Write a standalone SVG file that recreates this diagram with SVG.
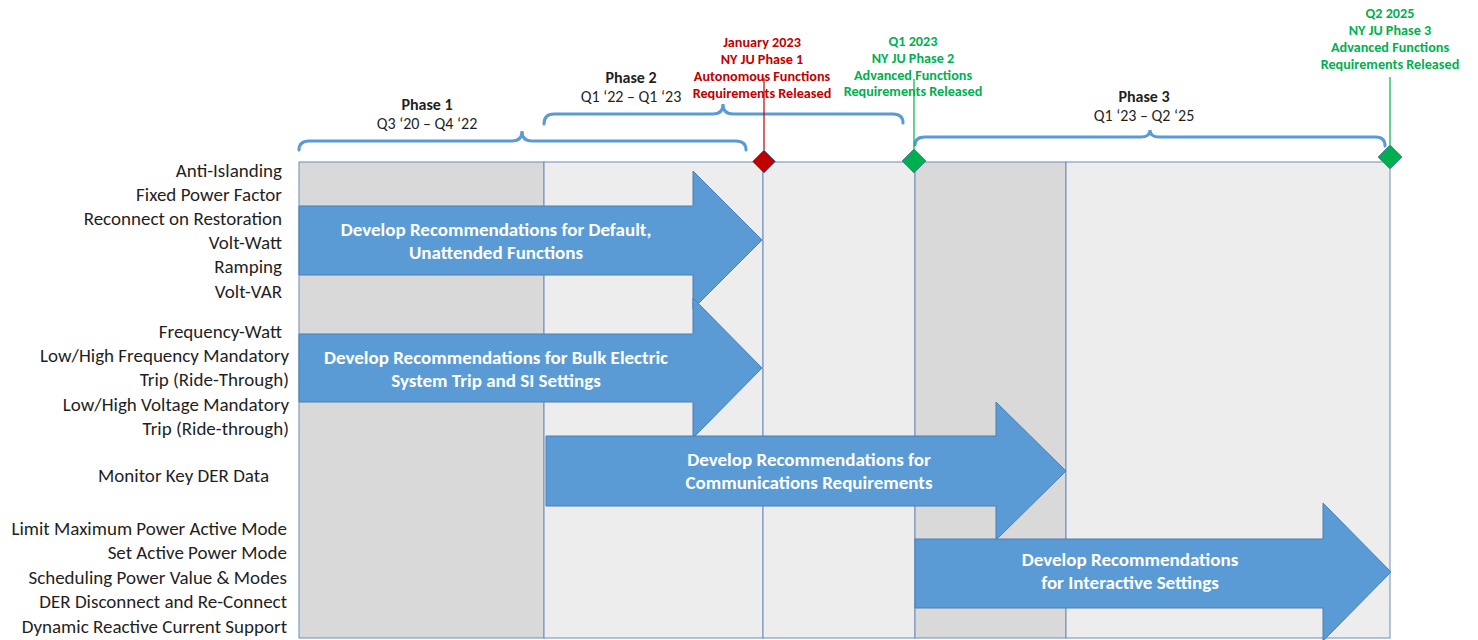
<svg xmlns="http://www.w3.org/2000/svg" width="1478" height="640" viewBox="0 0 1478 640">
<style>
.lbl{font-family:Carlito,Lato,"Liberation Sans",sans-serif;font-size:19px;fill:#1f1f1f;text-anchor:end}
.ph{font-family:Carlito,Lato,"Liberation Sans",sans-serif;font-size:16px;fill:#1f1f1f;text-anchor:middle}
.phb{font-weight:bold}
.ms{font-family:Carlito,Lato,"Liberation Sans",sans-serif;font-size:14.2px;font-weight:bold;text-anchor:middle}
.red{fill:#c00000}
.grn{fill:#00b050}
.at{font-family:Carlito,Lato,"Liberation Sans",sans-serif;font-size:19px;font-weight:bold;fill:#ffffff;text-anchor:middle}
.col{stroke:#6b8cba;stroke-width:1}
.dk{fill:#d9d9d9}
.lt{fill:#ededed}
.arrow{fill:#5b9bd5;stroke:#4a7fb5;stroke-width:1}
.brace{fill:none;stroke:#5b9bd5;stroke-width:3;stroke-linecap:round}
</style>
<rect width="1478" height="640" fill="#ffffff"/>
<g id="grid">
<rect class="col dk" x="299" y="162" width="245" height="476"/>
<rect class="col lt" x="544" y="162" width="219" height="476"/>
<rect class="col lt" x="763" y="162" width="152" height="476"/>
<rect class="col dk" x="915" y="162" width="151" height="476"/>
<rect class="col lt" x="1066" y="162" width="324" height="476"/>
</g>
<g id="braces">
<path class="brace" d="M299,150 Q299,141 309,141 H512 Q522,141 522,131 Q522,141 532,141 H736 Q746,141 746,150"/>
<path class="brace" d="M544,124 Q544,114 554,114 H713 Q723,114 723,104 Q723,114 733,114 H893 Q903,114 903,123"/>
<path class="brace" d="M915,145 Q915,137 925,137 H1141 Q1150,137 1150,130 Q1150,137 1159,137 H1376 Q1385,137 1385,146"/>
</g>
<g id="phase-labels">
<text class="ph phb" x="427" y="110">Phase 1</text>
<text class="ph" x="427" y="129">Q3 ‘20 – Q4 ‘22</text>
<text class="ph phb" x="631" y="83">Phase 2</text>
<text class="ph" x="631" y="102">Q1 ‘22 – Q1 ‘23</text>
<text class="ph phb" x="1144" y="102">Phase 3</text>
<text class="ph" x="1144" y="121">Q1 ‘23 – Q2 ‘25</text>
</g>
<g id="connectors">
<line x1="764" y1="78" x2="764" y2="151" stroke="#c00000" stroke-width="1.2"/>
<line x1="914" y1="79" x2="914" y2="150" stroke="#00b050" stroke-width="1.2"/>
<line x1="1390" y1="77" x2="1390" y2="145" stroke="#00b050" stroke-width="1.2"/>
</g>
<g id="milestone-1">
<text class="ms red" x="762" y="47">January 2023</text>
<text class="ms red" x="762" y="64">NY JU Phase 1</text>
<text class="ms red" x="762" y="81">Autonomous Functions</text>
<text class="ms red" x="762" y="98">Requirements Released</text>
<polygon points="764,150 775.5,161.5 764,173 752.5,161.5" fill="#c00000" stroke="#5b7fa8" stroke-width="1"/>
</g>
<g id="milestone-2">
<text class="ms grn" x="913" y="46">Q1 2023</text>
<text class="ms grn" x="913" y="63">NY JU Phase 2</text>
<text class="ms grn" x="913" y="80">Advanced Functions</text>
<text class="ms grn" x="913" y="96">Requirements Released</text>
<polygon points="914,149 926,161 914,173 902,161" fill="#00b050" stroke="#5b7fa8" stroke-width="1"/>
</g>
<g id="milestone-3">
<text class="ms grn" x="1390" y="18">Q2 2025</text>
<text class="ms grn" x="1390" y="35">NY JU Phase 3</text>
<text class="ms grn" x="1390" y="52">Advanced Functions</text>
<text class="ms grn" x="1390" y="69">Requirements Released</text>
<polygon points="1390,145 1402,157 1390,169 1378,157" fill="#00b050" stroke="#5b7fa8" stroke-width="1"/>
</g>
<g id="labels">
<text class="lbl" x="282" y="177">Anti-Islanding</text>
<text class="lbl" x="282" y="201">Fixed Power Factor</text>
<text class="lbl" x="282" y="225">Reconnect on Restoration</text>
<text class="lbl" x="282" y="249">Volt-Watt</text>
<text class="lbl" x="282" y="273">Ramping</text>
<text class="lbl" x="282" y="298">Volt-VAR</text>
<text class="lbl" x="282" y="338">Frequency-Watt</text>
<text class="lbl" x="289" y="362">Low/High Frequency Mandatory</text>
<text class="lbl" x="289" y="386">Trip (Ride-Through)</text>
<text class="lbl" x="289" y="411">Low/High Voltage Mandatory</text>
<text class="lbl" x="289" y="435">Trip (Ride-through)</text>
<text class="lbl" x="269" y="482">Monitor Key DER Data</text>
<text class="lbl" x="287" y="535">Limit Maximum Power Active Mode</text>
<text class="lbl" x="287" y="559">Set Active Power Mode</text>
<text class="lbl" x="287" y="584">Scheduling Power Value &amp; Modes</text>
<text class="lbl" x="287" y="608">DER Disconnect and Re-Connect</text>
<text class="lbl" x="287" y="633">Dynamic Reactive Current Support</text>
</g>
<g id="arrow-1">
<polygon class="arrow" points="299,206 693,206 693,171 762,240 693,309 693,275 299,275"/>
<text class="at" x="496" y="236">Develop Recommendations for Default,</text>
<text class="at" x="496" y="259">Unattended Functions</text>
</g>
<g id="arrow-2">
<polygon class="arrow" points="299,334 693,334 693,298 762,368 693,438 693,402 299,402"/>
<text class="at" x="496" y="364">Develop Recommendations for Bulk Electric</text>
<text class="at" x="496" y="387">System Trip and SI Settings</text>
</g>
<g id="arrow-3">
<polygon class="arrow" points="546,436 996,436 996,402 1066,471 996,540 996,506 546,506"/>
<text class="at" x="809" y="466">Develop Recommendations for</text>
<text class="at" x="809" y="489">Communications Requirements</text>
</g>
<g id="arrow-4">
<polygon class="arrow" points="915,539 1323,539 1323,503 1391,572 1323,641 1323,608 915,608"/>
<text class="at" x="1130" y="566">Develop Recommendations</text>
<text class="at" x="1130" y="589">for Interactive Settings</text>
</g>
</svg>
